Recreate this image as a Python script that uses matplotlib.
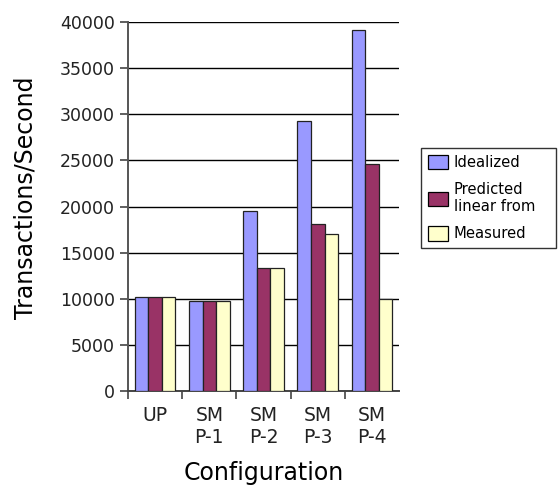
import numpy as np
import matplotlib.pyplot as plt
from matplotlib.patches import Patch

plt.rcParams['font.family'] = ['DejaVu Sans']

configs = ["UP", "SM\nP-1", "SM\nP-2", "SM\nP-3", "SM\nP-4"]
series = ["Idealized", "Predicted\nlinear from", "Measured"]
idealized = [10150, 9800, 19500, 29300, 39100]
predicted = [10150, 9800, 13300, 18100, 24600]
measured = [10150, 9800, 13300, 17050, 9950]
colors = ["#9999ff", "#993366", "#ffffcc"]

fig = plt.figure(figsize=(5.58, 4.86), dpi=100)
ax = fig.add_axes([0.2294, 0.1955, 0.486, 0.7592])

x = np.arange(len(configs)) + 0.5
w = 0.25
for k, vals in enumerate([idealized, predicted, measured]):
    ax.bar(x + (k - 1) * w, vals, width=w, color=colors[k],
           edgecolor="#222222", linewidth=0.9, zorder=3)

ax.set_xlim(0, len(configs))
ax.set_ylim(0, 40000)
ax.set_yticks(np.arange(0, 40001, 5000))
ax.yaxis.grid(True, color="black", linewidth=1.0, zorder=0)
ax.set_axisbelow(True)

# tick marks on category boundaries (not the last one), labels in between
ax.set_xticks(np.arange(len(configs)))
ax.set_xticklabels([])
ax.set_xticks(x, minor=True)
ax.set_xticklabels(configs, minor=True, fontsize=13.5, color="#222222")
ax.tick_params(axis="x", which="minor", length=0, pad=11)
ax.tick_params(axis="x", which="major", length=6, width=1.2, color="#444444")
ax.tick_params(axis="y", length=6, width=1.2, color="#444444", labelsize=12.5,
               labelcolor="#222222", pad=3.5)

for s in ["top", "right"]:
    ax.spines[s].set_visible(False)
ax.spines["left"].set_color("#555555")
ax.spines["left"].set_linewidth(1.4)
ax.spines["bottom"].set_color("#444444")
ax.spines["bottom"].set_linewidth(1.4)

ax.set_ylabel("Transactions/Second", fontsize=17)
ax.yaxis.set_label_coords(-0.332, 0.524)
ax.set_xlabel("Configuration", fontsize=17)
ax.xaxis.set_label_coords(0.5, -0.19)

handles = [Patch(facecolor=c, edgecolor="black", linewidth=0.9) for c in colors]
leg_top = 1 - 148 / 486
leg = fig.legend(handles, series, loc="upper left",
                 bbox_to_anchor=(421 / 558, leg_top - 0.2, 135 / 558, 0.2),
                 mode="expand", fontsize=10.6, frameon=True, fancybox=False,
                 borderpad=0.45, handlelength=1.36, handleheight=1.16,
                 handletextpad=0.4, labelspacing=0.8, borderaxespad=0)
leg.get_frame().set_edgecolor("black")
leg.get_frame().set_linewidth(1.0)

plt.savefig("out.png", dpi=100)
